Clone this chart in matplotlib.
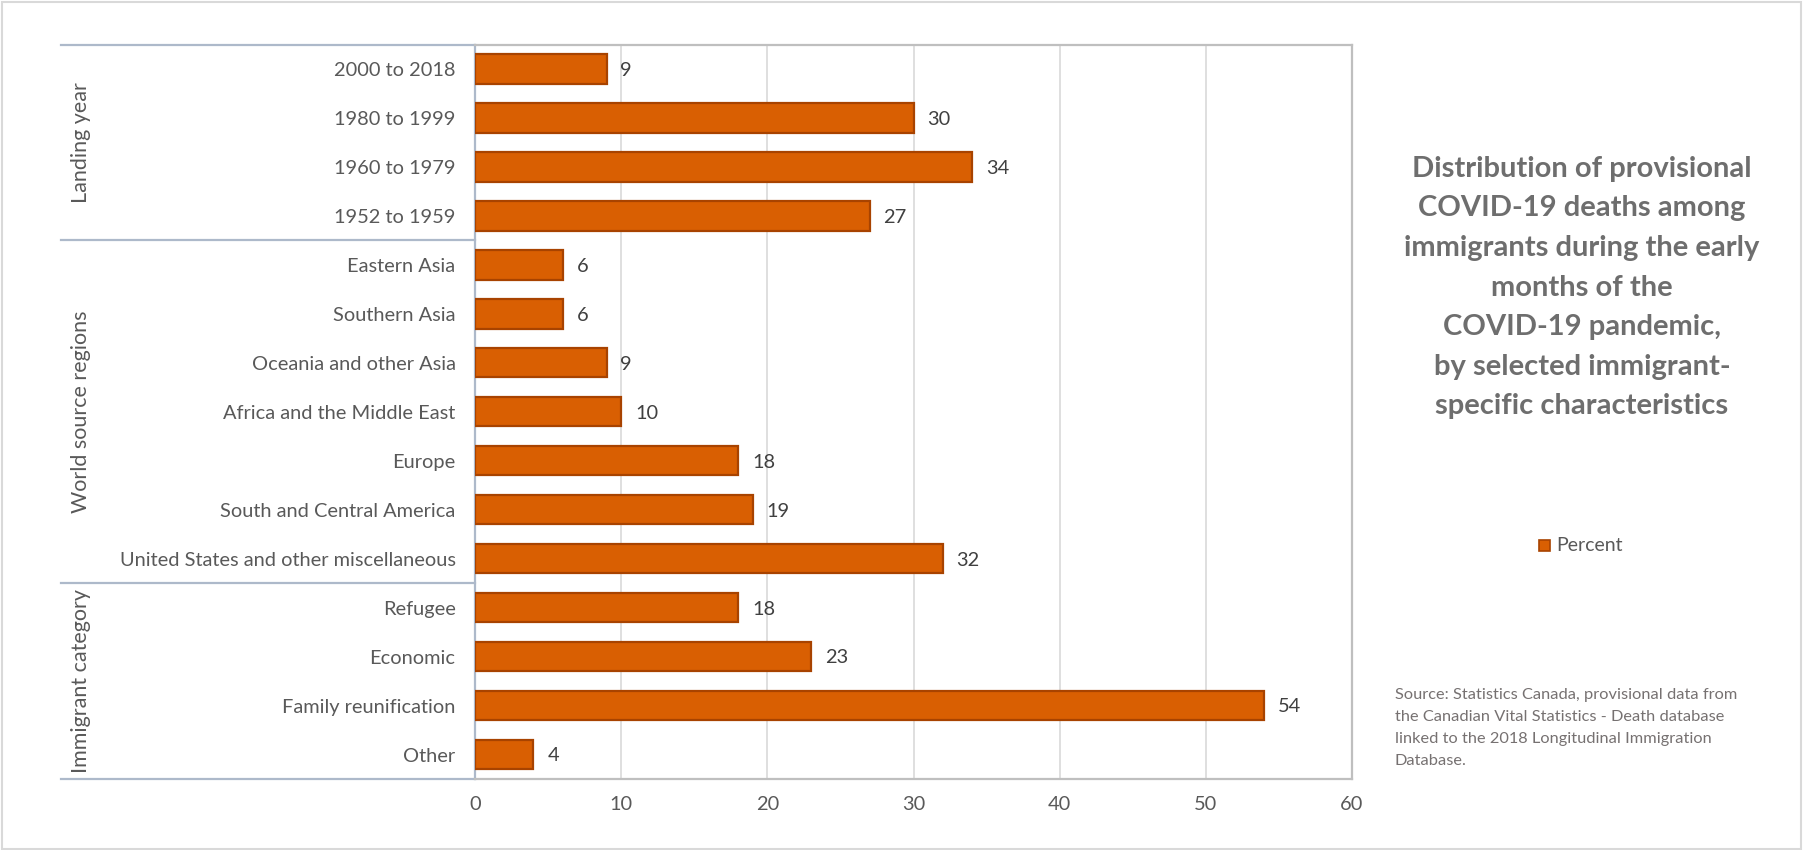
import matplotlib
matplotlib.use("Agg")
import matplotlib.pyplot as plt
from matplotlib.transforms import blended_transform_factory
from matplotlib.patches import Rectangle

# ---- data ----
groups = ["Landing year", "World source regions", "Immigrant category"]
landing_labels = ["2000 to 2018", "1980 to 1999", "1960 to 1979", "1952 to 1959"]
landing_values = [9, 30, 34, 27]
region_labels = ["Eastern Asia", "Southern Asia", "Oceania and other Asia",
                 "Africa and the Middle East", "Europe", "South and Central America",
                 "United States and other miscellaneous"]
region_values = [6, 6, 9, 10, 18, 19, 32]
category_labels = ["Refugee", "Economic", "Family reunification", "Other"]
category_values = [18, 23, 54, 4]
x_ticks = [0, 10, 20, 30, 40, 50, 60]
series_name = "Percent"
title = ("Distribution of provisional\nCOVID-19 deaths among\nimmigrants during the early\n"
         "months of the\nCOVID-19 pandemic,\nby selected immigrant-\nspecific characteristics")
source = ("Source: Statistics Canada, provisional data from\nthe Canadian Vital Statistics - Death database\n"
          "linked to the 2018 Longitudinal Immigration\nDatabase.")

labels = landing_labels + region_labels + category_labels
values = landing_values + region_values + category_values
group_sizes = [len(landing_labels), len(region_labels), len(category_labels)]

FONT = "Lato"
BAR = "#D95F02"
EDGE = "#A84300"
GRID = "#D9D9D9"
BORDER = "#BFBFBF"
AXBLUE = "#ADB9CA"
TXT = "#595959"

W, H = 1803, 850
fig = plt.figure(figsize=(W / 100, H / 100), dpi=100)
fig.patches.append(Rectangle((0.001, 0.001), 0.998, 0.997, transform=fig.transFigure,
                             fill=False, edgecolor="#D9D9D9", linewidth=1.5))

left, right, top, bottom = 475, 1352, 44.5, 779
ax = fig.add_axes([left / W, 1 - bottom / H, (right - left) / W, (bottom - top) / H])

ypos = list(range(len(labels)))
ax.barh(ypos, values, height=0.6, color=BAR, edgecolor=EDGE, linewidth=1.6, zorder=3)
for y, v in zip(ypos, values):
    ax.annotate(f"{v}", (v, y), xytext=(10, -1), textcoords="offset points",
                va="center", ha="left", fontsize=14.4, color="#404040", family=FONT)

ax.set_ylim(len(labels) - 0.5, -0.5)
ax.set_xlim(x_ticks[0], x_ticks[-1])
ax.set_xticks(x_ticks)
ax.set_yticks(ypos)
ax.set_yticklabels(labels, family=FONT, fontsize=14.4, color=TXT)
ax.set_xticklabels([str(t) for t in x_ticks], family=FONT, fontsize=14.4, color=TXT)
ax.tick_params(axis="y", length=0, pad=14)
ax.tick_params(axis="x", length=0, pad=12)
ax.grid(axis="x", color=GRID, linewidth=1.2, zorder=0)
ax.set_axisbelow(True)
for s in ["top", "right", "bottom"]:
    ax.spines[s].set_color(BORDER)
    ax.spines[s].set_linewidth(1.6)
ax.spines["left"].set_color(AXBLUE)
ax.spines["left"].set_linewidth(1.6)

# multi-level category separators and group labels
tr = blended_transform_factory(ax.transAxes, ax.transData)
xl = (61 - left) / (right - left)
bounds = [-0.5]
for n in group_sizes:
    bounds.append(bounds[-1] + n)
for b in bounds:
    ax.plot([xl, 0], [b, b], transform=tr, color=AXBLUE, linewidth=1.6, clip_on=False)
xg = (81 - left) / (right - left)
for g, a, b in zip(groups, bounds[:-1], bounds[1:]):
    ax.text(xg, (a + b) / 2, g, transform=tr, rotation=90, ha="center", va="center",
            fontsize=15.5, color=TXT, family=FONT)

# title
fig.text(1582 / W, 1 - 287.5 / H, title, ha="center", va="center", fontsize=21,
         fontweight="bold", color="#6E6E6E", family="Lato", linespacing=1.65)

# legend
fig.patches.append(Rectangle((1539 / W, 1 - 551 / H), 11 / W, 11 / H, transform=fig.transFigure,
                             facecolor=BAR, edgecolor=EDGE, linewidth=1.2))
fig.text(1556 / W, 1 - 545.5 / H, series_name, ha="left", va="center", fontsize=14,
         color=TXT, family=FONT)

# source
fig.text(1395 / W, 1 - 688 / H, source, ha="left", va="top", fontsize=11.8,
         color="#767171", family=FONT, linespacing=1.72)

fig.savefig("out.png", dpi=100)
